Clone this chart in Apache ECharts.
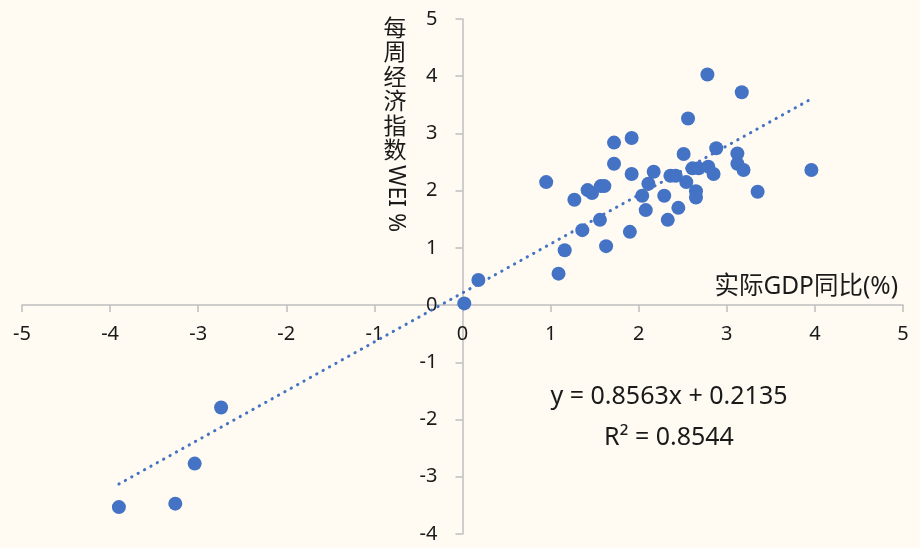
<!DOCTYPE html>
<html>
<head>
<meta charset="utf-8">
<script src="https://cdn.jsdelivr.net/npm/echarts@6/dist/echarts.min.js"></script>
<style>
html,body{margin:0;padding:0;background:#FFFBF2;}
#chart{width:920px;height:548px;}
</style>
</head>
<body>
<div id="chart"></div>
<script>
// Data
var gdp = [0.02, 0.18, -2.74, -3.04, -3.26, -3.90,
  2.78, 3.17, 2.56, 1.72, 1.92, 2.88, 2.51, 3.12, 1.72, 3.12, 3.19, 3.96,
  0.95, 1.92, 2.17, 2.36, 2.42, 2.54, 2.61, 2.68, 2.79, 2.85, 2.11, 1.42,
  1.47, 1.57, 1.61, 1.27, 2.04, 2.29, 2.65, 2.65, 3.35, 2.08, 2.45, 1.56,
  2.33, 1.36, 1.90, 1.16, 1.63, 1.09];
var wei = [0.03, 0.44, -1.79, -2.77, -3.47, -3.53,
  4.03, 3.72, 3.26, 2.84, 2.92, 2.74, 2.64, 2.65, 2.47, 2.47, 2.36, 2.36,
  2.15, 2.29, 2.33, 2.26, 2.26, 2.15, 2.39, 2.39, 2.42, 2.29, 2.12, 2.01,
  1.96, 2.08, 2.08, 1.84, 1.91, 1.91, 1.99, 1.88, 1.98, 1.66, 1.70, 1.49,
  1.49, 1.31, 1.28, 0.96, 1.03, 0.55];
var slope = 0.8563;
var intercept = 0.2135;
var r2 = 0.8544;
var xTicks = [-5, -4, -3, -2, -1, 0, 1, 2, 3, 4, 5];
var yTicks = [-4, -3, -2, -1, 0, 1, 2, 3, 4, 5];
var xTitle = '实际GDP同比(%)';
var yTitleCJK = ['每', '周', '经', '济', '指', '数'];
var yTitleLatin = 'WEI %';

var points = gdp.map(function (x, i) { return [x, wei[i]]; });
var xMin = Math.min.apply(null, gdp), xMax = Math.max.apply(null, gdp);
var trend = [[xMin, slope * xMin + intercept], [xMax, slope * xMax + intercept]];

var FONT = '"Noto Sans", "Noto Sans CJK SC", sans-serif';
var W = 920, H = 548;
var G = {left: 22, right: 17, top: 19, bottom: 14};
var plotW = W - G.left - G.right, plotH = H - G.top - G.bottom;
var xMinAx = xTicks[0], xMaxAx = xTicks[xTicks.length - 1];
var yMinAx = yTicks[0], yMaxAx = yTicks[yTicks.length - 1];
// offsets so that the axes cross at zero
var xAxisOffset = -plotH * (0 - yMinAx) / (yMaxAx - yMinAx);
var yAxisOffset = -plotW * (0 - xMinAx) / (xMaxAx - xMinAx);

var chart = echarts.init(document.getElementById('chart'));
chart.setOption({
  backgroundColor: '#FFFBF2',
  animation: false,
  grid: {left: G.left, right: G.right, top: G.top, bottom: G.bottom, containLabel: false, outerBoundsMode: 'none'},
  xAxis: {
    type: 'value', min: xMinAx, max: xMaxAx, interval: 1, position: 'bottom', offset: xAxisOffset,
    axisLine: {onZero: false, lineStyle: {color: '#BFBFBF', width: 1.5}},
    axisTick: {show: true, length: 7, lineStyle: {color: '#BFBFBF', width: 1.5}},
    splitLine: {show: false},
    axisLabel: {color: '#1a1a1a', fontSize: 20, fontFamily: FONT, margin: 19}
  },
  yAxis: {
    type: 'value', min: yMinAx, max: yMaxAx, interval: 1, position: 'left', offset: yAxisOffset,
    axisLine: {onZero: false, lineStyle: {color: '#BFBFBF', width: 1.5}},
    axisTick: {show: true, length: 7, lineStyle: {color: '#BFBFBF', width: 1.5}},
    splitLine: {show: false},
    axisLabel: {color: '#1a1a1a', fontSize: 20, fontFamily: FONT, margin: 25}
  },
  series: [
    {
      type: 'line', data: trend, showSymbol: false, symbol: 'none', z: 1,
      lineStyle: {color: '#4472C4', width: 3, type: [0.3, 7], cap: 'round'}
    },
    {
      type: 'scatter', data: points, symbolSize: 14, z: 2,
      itemStyle: {color: '#4472C4', opacity: 1}
    }
  ],
  graphic: [
    {type: 'text', x: 898, y: 287, style: {text: xTitle, font: '24.5px ' + FONT, fill: '#1a1a1a', align: 'right', verticalAlign: 'middle'}},
    {type: 'text', x: 395, y: 15, style: {text: yTitleCJK.join('\n'), font: '23px "Noto Sans CJK SC", sans-serif', fill: '#1a1a1a', align: 'center', verticalAlign: 'top', lineHeight: 24.5}},
    {type: 'text', x: 407, y: 165, rotation: -Math.PI / 2, style: {text: yTitleLatin, font: '23px ' + FONT, fill: '#1a1a1a', align: 'left', verticalAlign: 'top'}},
    {type: 'text', x: 669, y: 397, style: {text: 'y = ' + slope + 'x + ' + intercept, font: '25px ' + FONT, fill: '#1a1a1a', align: 'center', verticalAlign: 'middle'}},
    {type: 'text', x: 669, y: 438, style: {text: 'R² = ' + r2, font: '25px ' + FONT, fill: '#1a1a1a', align: 'center', verticalAlign: 'middle'}}
  ]
});
</script>
</body>
</html>
